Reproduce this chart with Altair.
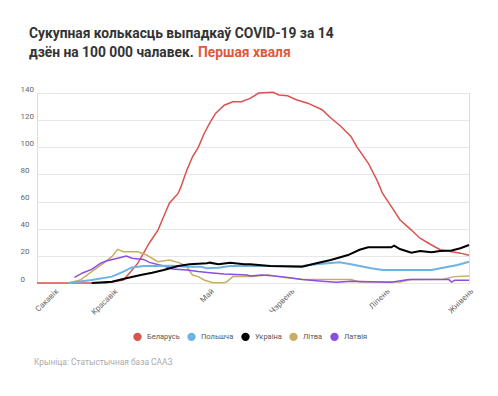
import altair as alt
import pandas as pd

# ---- data (day index from start of series, value per 100k over 14 days) ----
countries = ["Беларусь", "Польшча", "Украіна", "Літва", "Латвія"]
colors = ["#d9534f", "#6cb4e4", "#000000", "#c8ad65", "#8a4fe0"]

days_belarus = [0, 24, 30, 32, 35, 37, 39, 42, 44, 46, 49, 50, 52, 54, 56, 58, 60, 62, 65, 68, 71, 74, 77, 82, 84,
                87, 90, 94, 99, 102, 105, 109, 111, 115, 118, 120, 123, 126, 130, 133, 137, 140, 144, 147, 150]
vals_belarus = [0, 0, 2.2, 7, 14.6, 22, 29.5, 39, 49, 59, 66, 71, 83, 93, 100, 110, 118, 125, 131, 133.5, 133.5,
                136, 140, 140.5, 138.5, 138, 135, 132.5, 127.7, 121.6, 116.4, 108, 100.5, 88.4, 76, 66, 56.5,
                46.6, 39, 33, 28, 24.5, 23, 22, 20.5]

days_poland = [11, 19, 26, 30, 33, 37, 47, 52, 57, 59, 63, 67, 79, 85, 92, 97, 105, 109, 116, 120, 137, 141, 146, 150]
vals_poland = [0, 2.2, 4.7, 8.4, 11.5, 12.5, 12.8, 12, 12, 10.8, 11.3, 12.5, 12.5, 12.5, 12.5, 13.8, 15.2, 13.8,
               10.8, 9.6, 9.6, 11.3, 13.3, 15.7]

days_ukraine = [19, 26, 31, 36, 40, 44, 49, 53, 59, 60, 63, 67, 72, 74, 81, 92, 97, 102, 108, 112, 115, 123, 124,
                126, 130, 133, 137, 140, 144, 147, 150]
vals_ukraine = [0, 1, 3.5, 5.9, 7.6, 9.6, 12.5, 13.8, 14.5, 15, 13.8, 15, 13.8, 13.8, 12.5, 12, 14.5, 17, 20.6,
                24.5, 26.3, 26.3, 27.5, 25, 22.3, 23.6, 22.6, 23.6, 24, 25.6, 28]

days_lithuania = [11, 15, 19, 23, 26, 28, 30, 35, 38, 42, 46, 50, 52, 54, 56, 58, 61, 65, 66, 68, 75, 80, 85, 92,
                  109, 112, 126, 130, 141, 145, 150]
vals_lithuania = [0, 2.2, 8.4, 14.5, 19.4, 24.8, 23, 23, 20.6, 15.7, 17, 14.5, 12, 5.9, 4.7, 2.2, 0.2, 0.2, 1, 4.7,
                  4.7, 6, 4.2, 2.7, 2.5, 0.7, 0.7, 2.5, 2.7, 4.7, 5.2]

days_latvia = [13, 16, 19, 22, 24, 28, 31, 33, 37, 39, 44, 47, 52, 56, 60, 65, 73, 74, 78, 85, 92, 99, 104, 109,
               123, 129, 137, 143, 144, 145, 150]
vals_latvia = [4.2, 7.6, 10, 14.5, 16.2, 18.2, 19.9, 18.2, 17.4, 15.2, 12.5, 10.3, 9.6, 8.4, 7.6, 6.6, 5.9, 5.2,
               5.9, 4.7, 2.5, 1.2, 0.5, 1.2, 0.5, 2.5, 2.5, 2.5, 0.7, 2, 2]

month_ticks = [6, 26.5, 60, 88, 121, 150]
month_labels = ["Сакавік", "Красавік", "Май", "Чэрвень", "Ліпень", "Жнівень"]
y_ticks = [0, 20, 40, 60, 80, 100, 120, 140]

title_line1 = ["Сукупная колькасць выпадкаў COVID-19 за 14"]
title_line2 = ["дзён на 100 000 чалавек."]
title_accent = ["Першая хваля"]
source_text = ["Крыніца: Статыстычная база СААЗ"]

# ---- build long table ----
series = [
    (countries[0], days_belarus, vals_belarus),
    (countries[1], days_poland, vals_poland),
    (countries[2], days_ukraine, vals_ukraine),
    (countries[3], days_lithuania, vals_lithuania),
    (countries[4], days_latvia, vals_latvia),
]
rows = []
for name, ds, vs in series:
    for d, v in zip(ds, vs):
        rows.append({"country": name, "day": d, "value": v})
df = pd.DataFrame(rows)

label_expr = " : ".join(f"datum.value == {t} ? '{l}'" for t, l in zip(month_ticks, month_labels)) + " : ''"

FONT = "Roboto"
W, H = 432, 190
TFS = 13.8

color_scale = alt.Scale(domain=countries, range=colors)

x_enc = alt.X("day:Q", scale=alt.Scale(domain=[0, 150], nice=False, zero=False),
              axis=alt.Axis(values=month_ticks, labelExpr=label_expr, title=None, grid=False, domain=False,
                            ticks=False, tickSize=0, labelAngle=-45, labelAlign="right", labelBaseline="top",
                            labelPadding=4, labelFont=FONT, labelFontSize=8, labelColor="#666",
                            labelOverlap=False, labelFlush=False, labelBound=False))
y_enc = alt.Y("value:Q", scale=alt.Scale(domain=[0, 140], nice=False),
              axis=alt.Axis(values=y_ticks, title=None, grid=True, gridColor="#e8e8e8", gridWidth=1,
                            domain=False, ticks=False, tickSize=0, labelAlign="left", labelPadding=17,
                            labelBaseline="alphabetic", labelOffset=-2, labelFont=FONT, labelFontSize=8,
                            labelColor="#666"))
c_enc = alt.Color("country:N", scale=color_scale, sort=countries,
                  legend=alt.Legend(title=None, orient="none", legendX=96, legendY=239,
                                    direction="horizontal", symbolType="circle", symbolSize=16,
                                    symbolStrokeWidth=4.4, symbolFillColor="transparent",
                                    labelFont=FONT, labelFontSize=7.5, labelColor="#555", labelOffset=5,
                                    columnPadding=0, padding=0))

thin = alt.Chart(df).transform_filter(
    "datum.country == 'Беларусь' || datum.country == 'Літва' || datum.country == 'Латвія'"
).mark_line(strokeWidth=1.5).encode(x=x_enc, y=y_enc, color=c_enc)

thick = alt.Chart(df).transform_filter(
    "datum.country == 'Украіна' || datum.country == 'Польшча'"
).mark_line(strokeWidth=2).encode(x=x_enc, y=y_enc, color=c_enc)

t1 = alt.Chart(pd.DataFrame({"t": title_line1})).mark_text(
    align="left", baseline="alphabetic", font=FONT, fontSize=TFS, fontWeight="bold", color="#333"
).encode(text="t:N", x=alt.value(-8), y=alt.value(-55))

t2 = alt.Chart(pd.DataFrame({"t": title_line2})).mark_text(
    align="left", baseline="alphabetic", font=FONT, fontSize=TFS, fontWeight="bold", color="#333"
).encode(text="t:N", x=alt.value(-8), y=alt.value(-36))

t3 = alt.Chart(pd.DataFrame({"t": title_accent})).mark_text(
    align="left", baseline="alphabetic", font=FONT, fontSize=TFS, fontWeight="bold", color="#e0593a"
).encode(text="t:N", x=alt.value(161), y=alt.value(-36))

src = alt.Chart(pd.DataFrame({"t": source_text})).mark_text(
    align="left", baseline="alphabetic", font=FONT, fontSize=8.4, color="#aaa"
).encode(text="t:N", x=alt.value(-3), y=alt.value(272))

chart = alt.layer(thin, thick, t1, t2, t3, src).properties(
    width=W, height=H,
    padding={"left": 29, "top": 85, "right": 21, "bottom": 105},
    autosize=alt.AutoSizeParams(type="none"),
).configure_view(stroke=None).configure(background="white")

chart.save("out.html", embed_options={"renderer": "svg", "actions": False})
